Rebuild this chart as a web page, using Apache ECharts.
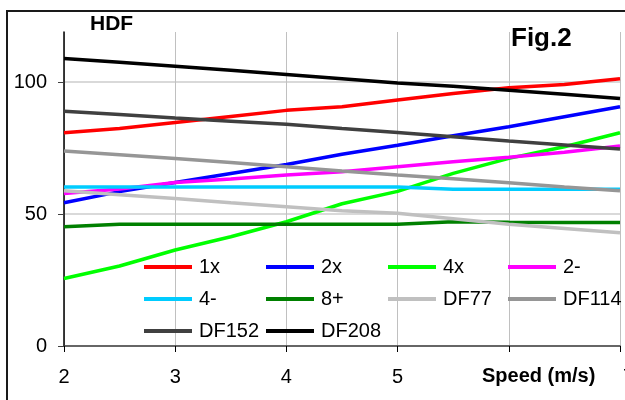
<!DOCTYPE html>
<html>
<head>
<meta charset="utf-8">
<script src="https://cdn.jsdelivr.net/npm/echarts@6/dist/echarts.min.js"></script>
<style>html,body{margin:0;padding:0;background:#fff;}#c{width:625px;height:400px;}</style>
</head>
<body>
<div id="c"></div>
<script>
var speeds = [2, 2.5, 3, 3.5, 4, 4.5, 5, 5.5, 6, 6.5, 7];
var s1x   = [80.8, 82.4, 84.7, 87.0, 89.3, 90.7, 93.2, 95.7, 97.9, 99.1, 101.3];
var s2x   = [54.3, 58.5, 62.0, 65.4, 68.8, 72.7, 76.1, 79.7, 83.1, 86.9, 90.7];
var s4x   = [25.6, 30.3, 36.4, 41.4, 47.1, 53.9, 58.6, 65.4, 71.1, 75.5, 80.8];
var s2m   = [57.8, 59.5, 62.0, 63.3, 64.8, 66.0, 67.9, 69.8, 71.5, 73.4, 75.8];
var s4m   = [60.3, 60.3, 60.3, 60.3, 60.3, 60.3, 60.3, 59.4, 59.4, 59.4, 59.4];
var s8p   = [45.2, 46.1, 46.1, 46.1, 46.1, 46.1, 46.1, 47.1, 46.9, 46.8, 46.8];
var sDF77 = [58.8, 57.3, 55.9, 54.3, 52.8, 51.3, 50.3, 48.2, 46.1, 44.5, 42.9];
var sDF114= [73.9, 72.5, 71.1, 69.5, 67.9, 66.3, 64.8, 63.4, 61.9, 60.3, 58.8];
var sDF152= [89.0, 87.7, 86.4, 85.2, 84.0, 82.4, 80.9, 79.3, 77.7, 76.2, 74.7];
var sDF208= [109.0, 107.5, 106.0, 104.5, 102.9, 101.3, 99.7, 98.4, 96.9, 95.4, 93.8];
var seriesNames = ['1x', '2x', '4x', '2-', '4-', '8+', 'DF77', 'DF114', 'DF152', 'DF208'];
var seriesValues = [s1x, s2x, s4x, s2m, s4m, s8p, sDF77, sDF114, sDF152, sDF208];
var seriesColors = ['#ff0000', '#0000ff', '#00ff00', '#ff00ff', '#00ccff', '#008000', '#c0c0c0', '#969696', '#404040', '#000000'];
var yTicks = [0, 50, 100];
var xTicks = [2, 3, 4, 5, 6, 7];

var FONT = 'Arial, "Liberation Sans", sans-serif';
var chart = echarts.init(document.getElementById('c'), null, {renderer: 'canvas'});

var series = seriesNames.map(function (n, i) {
  return {
    name: n, type: 'line', symbol: 'none', smooth: false,
    lineStyle: {width: 3.5, color: seriesColors[i]},
    itemStyle: {color: seriesColors[i]},
    data: speeds.map(function (x, k) { return [x, seriesValues[i][k]]; }),
    z: 2 + i
  };
});

var cols = [['1x', '4-', 'DF152'], ['2x', '8+', 'DF208'], ['4x', 'DF77'], ['2-', 'DF114']];
var colLeft = [144, 266, 388, 508];
var legends = cols.map(function (c, i) {
  return {
    orient: 'vertical', left: colLeft[i], top: 256, padding: 0,
    itemWidth: 48, itemHeight: 4, itemGap: 10, icon: 'rect', selectedMode: false,
    data: c,
    textStyle: {fontFamily: FONT, fontSize: 20, color: '#000', lineHeight: 22, padding: [0, 0, 0, 2]}
  };
});

chart.setOption({
  animation: false,
  backgroundColor: '#fff',
  textStyle: {fontFamily: FONT},
  title: [
    {text: 'HDF', left: 90, top: 14, padding: 0, textStyle: {fontFamily: FONT, fontSize: 21, fontWeight: 'bold', color: '#000'}},
    {text: 'Fig.2', left: 511, top: 26, padding: 0, textStyle: {fontFamily: FONT, fontSize: 26, fontWeight: 'bold', color: '#000'}},
    {text: 'Speed (m/s)', left: 482, top: 366, padding: 0, textStyle: {fontFamily: FONT, fontSize: 20, fontWeight: 'bold', color: '#000'}}
  ],
  legend: legends,
  grid: {left: 64, right: 5, top: 32, bottom: 54, containLabel: false, outerBoundsMode: 'none'},
  xAxis: {
    type: 'value', min: 2, max: 7, interval: 1,
    axisLine: {show: true, onZero: false, lineStyle: {color: '#404040', width: 1.5}},
    axisTick: {show: true, length: 6, lineStyle: {color: '#000'}},
    splitLine: {show: true, lineStyle: {color: '#c0c0c0', width: 1}},
    axisLabel: {
      fontFamily: FONT, fontSize: 20, color: '#000', margin: 21, hideOverlap: false,
      formatter: function (v) {
        if (v === 6) return '';
        if (v === 7) return '{r|7}';
        return xTicks.indexOf(v) >= 0 ? String(v) : '';
      },
      rich: {r: {fontFamily: FONT, fontSize: 20, color: '#000', padding: [0, 0, 0, 17]}}
    }
  },
  yAxis: {
    type: 'value', min: 0, max: 119, interval: 50,
    axisLine: {show: true, lineStyle: {color: '#000', width: 1.5}},
    axisTick: {show: true, length: 6, lineStyle: {color: '#404040'}},
    splitLine: {show: true, showMaxLine: false, lineStyle: {color: '#d9d9d9', width: 2}},
    axisLabel: {
      fontFamily: FONT, fontSize: 20, color: '#000', margin: 17, showMaxLabel: false,
      formatter: function (v) { return yTicks.indexOf(v) >= 0 ? String(v) : ''; }
    }
  },
  graphic: [{
    type: 'rect', z: 100, silent: true,
    shape: {x: 7, y: 11, width: 800, height: 600},
    style: {fill: 'none', stroke: '#1a1a1a', lineWidth: 2}
  }],
  series: series
});
</script>
</body>
</html>
